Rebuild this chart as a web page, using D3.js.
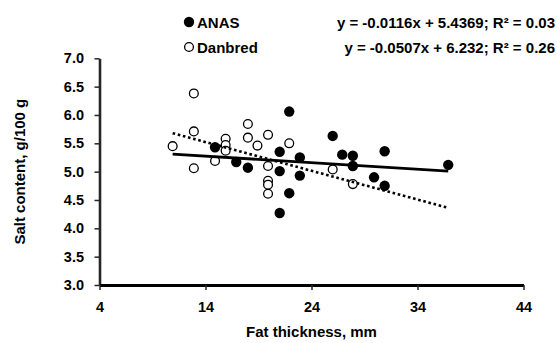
<!DOCTYPE html>
<html>
<head>
<meta charset="utf-8">
<script src="https://cdn.jsdelivr.net/npm/d3@7"></script>
<style>
body{margin:0;background:#fff;}
text{font-family:"Liberation Sans",Arial,sans-serif;font-weight:bold;fill:#000;}
</style>
</head>
<body>
<div id="chart"></div>
<script>
// fat thickness (mm) and salt content (g/100 g)
var anasX = [14.9, 16.9, 18.0, 21.0, 21.0, 21.0, 21.9, 21.9, 22.9, 22.9, 26.0, 26.9, 27.9, 27.9, 29.9, 30.9, 30.9, 36.9];
var anasY = [5.43, 5.17, 5.07, 5.35, 5.01, 4.27, 6.06, 4.62, 5.25, 4.93, 5.63, 5.30, 5.28, 5.10, 4.90, 5.36, 4.75, 5.12];
var danX = [10.9, 12.9, 12.9, 12.9, 14.9, 15.9, 15.9, 15.9, 18.0, 18.0, 18.9, 19.9, 19.9, 19.9, 19.9, 19.9, 21.9, 26.0, 27.9];
var danY = [5.45, 6.38, 5.71, 5.06, 5.19, 5.58, 5.47, 5.37, 5.84, 5.60, 5.46, 5.65, 5.10, 4.84, 4.77, 4.61, 5.50, 5.04, 4.78];

var seriesNames = ["ANAS", "Danbred"];
var equations = ["y = -0.0116x + 5.4369; R² = 0.03", "y = -0.0507x + 6.232; R² = 0.26"];
var slopes = [-0.0116, -0.0507];
var intercepts = [5.4369, 6.232];
var trendRange = [10.9, 36.9];

var xTicks = [4, 14, 24, 34, 44];
var yTicks = [3.0, 3.5, 4.0, 4.5, 5.0, 5.5, 6.0, 6.5, 7.0];

var W = 557, H = 343;
var svg = d3.select("#chart").append("svg")
	.attr("width", W).attr("height", H);
svg.append("rect").attr("width", W).attr("height", H).attr("fill", "#fff");

var x = d3.scaleLinear().domain([4, 44]).range([99.5, 523.5]);
var y = d3.scaleLinear().domain([3, 7]).range([285, 58.3]);

// axes
var yAxis = svg.append("g").attr("transform", "translate(" + x(4) + ",0)")
	.call(d3.axisLeft(y).tickValues(yTicks).tickFormat(d3.format(".1f"))
		.tickSize(5).tickSizeOuter(0).tickPadding(10.5));
yAxis.select(".domain").attr("stroke", "#262626").attr("stroke-width", 2.6);
yAxis.selectAll(".tick line").attr("stroke", "#262626").attr("stroke-width", 1.5);
yAxis.selectAll("text").style("font-size", "14.5px").attr("fill", "#000");

var xAxis = svg.append("g").attr("transform", "translate(0," + y(3) + ")")
	.call(d3.axisBottom(x).tickValues(xTicks).tickSize(5).tickSizeOuter(0).tickPadding(12));
xAxis.select(".domain").attr("stroke", "#000").attr("stroke-width", 3);
xAxis.selectAll(".tick line").attr("stroke", "#262626").attr("stroke-width", 1.5);
xAxis.selectAll("text").style("font-size", "14.5px").attr("fill", "#000");

// axis titles
svg.append("text").attr("x", x(24)).attr("y", 337)
	.attr("text-anchor", "middle").style("font-size", "15px")
	.text("Fat thickness, mm");
svg.append("text")
	.attr("transform", "translate(25," + y(5) + ") rotate(-90)")
	.attr("text-anchor", "middle").style("font-size", "15px")
	.text("Salt content, g/100 g");

// points
svg.selectAll(".anas").data(anasX).enter().append("circle")
	.attr("class", "anas")
	.attr("cx", function(d){ return x(d); })
	.attr("cy", function(d, i){ return y(anasY[i]); })
	.attr("r", 5.2)
	.attr("fill", "#000");

svg.selectAll(".dan").data(danX).enter().append("circle")
	.attr("class", "dan")
	.attr("cx", function(d){ return x(d); })
	.attr("cy", function(d, i){ return y(danY[i]); })
	.attr("r", 4.4)
	.attr("fill", "#fff")
	.attr("stroke", "#000")
	.attr("stroke-width", 1.3);

// trend lines
var line = d3.line().x(function(d){ return x(d[0]); }).y(function(d){ return y(d[1]); });
[0, 1].forEach(function(k){
	var pts = trendRange.map(function(v){ return [v, slopes[k] * v + intercepts[k]]; });
	svg.append("path").attr("d", line(pts))
		.attr("fill", "none").attr("stroke", "#000")
		.attr("stroke-width", k == 0 ? 2.8 : 2.6)
		.attr("stroke-dasharray", k == 0 ? null : "2.6 2.7");
});

// legend
var legY = [22, 47];
seriesNames.forEach(function(name, k){
	var m = svg.append("circle").attr("cx", 189).attr("cy", legY[k]);
	if (k == 0) m.attr("r", 5.2).attr("fill", "#000");
	else m.attr("r", 4.4).attr("fill", "#fff").attr("stroke", "#000").attr("stroke-width", 1.3);
	svg.append("text").attr("x", 197).attr("y", legY[k] + 5.5)
		.style("font-size", "15px").text(name);
	svg.append("text").attr("x", 555).attr("y", legY[k] + 5.5)
		.attr("text-anchor", "end").style("font-size", "15px").text(equations[k]);
});
</script>
</body>
</html>
